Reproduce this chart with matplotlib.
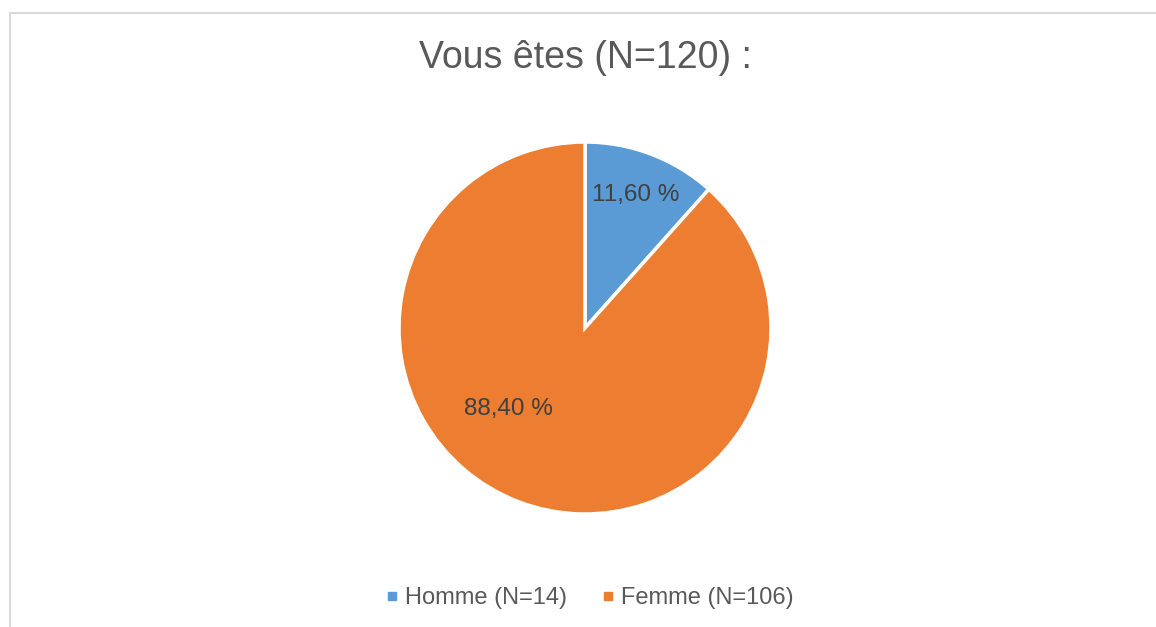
import matplotlib.pyplot as plt
from matplotlib.patches import Rectangle
from matplotlib.lines import Line2D
import numpy as np

# ---------- Data ----------
labels = ["Homme (N=14)", "Femme (N=106)"]
values = [11.60, 88.40]
pct_text = ["11,60 %", "88,40 %"]
colors = ["#5B9BD5", "#ED7D31"]
title = "Vous êtes (N=120) :"

plt.rcParams['font.family'] = ['Liberation Sans', 'DejaVu Sans']

W, H = 1156, 627
fig = plt.figure(figsize=(W / 100, H / 100), dpi=100)

# chart border (light gray, partially cut off)
fig.patches.append(Rectangle((9.5 / W, -0.1), 1.2, 1 - 13 / H + 0.1,
                             transform=fig.transFigure, fill=False,
                             edgecolor="#D9D9D9", linewidth=1.5))

# pie axes: center (585, 328), radius 186 px
cx, cy, r = 585, 328, 186
ax = fig.add_axes([(cx - r) / W, (H - cy - r) / H, 2 * r / W, 2 * r / H])
wedges, _ = ax.pie(values, colors=colors, startangle=90, counterclock=False,
                   radius=1, wedgeprops=dict(edgecolor="white", linewidth=2.5))
ax.set_xlim(-1, 1)
ax.set_ylim(-1, 1)
ax.axis("off")

# data labels (Excel "best fit" placement)
label_pos = [(0.765, 69.0), (0.60, 226.8)]
for txt, (d, ang) in zip(pct_text, label_pos):
    a = np.deg2rad(ang)
    ax.text(d * np.cos(a), d * np.sin(a), txt, ha="center", va="center",
            fontsize=17.5, color="#404040")

fig.text(cx / W, 1 - 58 / H, title, ha="center", va="center",
         fontsize=27, color="#595959")

handles = [Line2D([], [], marker="s", linestyle="", markersize=5.5,
                  markerfacecolor=c, markeredgecolor=c) for c in colors]
fig.legend(handles, labels, loc="center", ncol=2, frameon=False,
           bbox_to_anchor=(590 / W, 1 - 598 / H), fontsize=17,
           labelcolor="#595959", handlelength=0.5, handletextpad=0.3,
           columnspacing=1.5)

fig.savefig("out.png", dpi=100)
